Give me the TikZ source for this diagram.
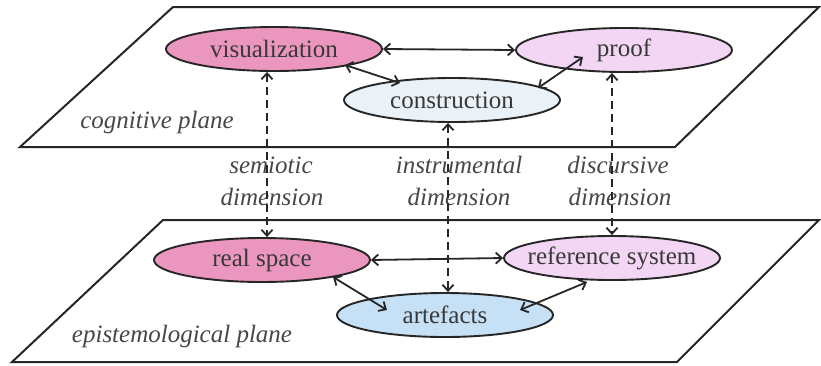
\documentclass[tikz,border=0pt]{standalone}
\usepackage{fontspec}
\setmainfont{Liberation Serif}
\usetikzlibrary{shapes.geometric,arrows.meta,calc}
\definecolor{pinkfill}{HTML}{EB96BE}
\definecolor{lavfill}{HTML}{F3D6F3}
\definecolor{palefill}{HTML}{EBF2F7}
\definecolor{bluefill}{HTML}{C6E0F5}
\begin{document}
\begin{tikzpicture}[x=1pt,y=-1pt,
  plane/.style={draw=black!85, line width=2pt, fill=white, line join=miter},
  blob/.style={ellipse, draw=black!85, line width=1.9pt, minimum width=216pt,
    minimum height=44pt, inner xsep=-15pt, inner ysep=-2pt,
    font=\fontsize{25}{28}\selectfont, text=black!78},
  link/.style={line width=1.8pt, draw=black!85,
    {Straight Barb[length=6pt,width=11pt]}-{Straight Barb[length=6pt,width=11pt]}},
  dim/.style={link, dash pattern=on 8pt off 5pt},
  lab/.style={font=\itshape\fontsize{25}{28}\selectfont, text=black!72, anchor=base}]
\useasboundingbox (0,0) rectangle (821,365);
% planes
\draw[plane] (173,7) -- (819,7) -- (675,147) -- (20,147) -- cycle;
\draw[plane] (163,220) -- (819,220) -- (677,362) -- (12,362) -- cycle;
% plane names
\node[lab] (cog) at (157,128) {cognitive plane};
\node[lab] (epi) at (182,342) {epistemological plane};
% nodes
\node[blob, fill=pinkfill] (vis) at (274,49) {visualization};
\node[blob, fill=lavfill] (proof) at (624,50) {proof};
\node[blob, fill=palefill] (cons) at (452,100) {construction};
\node[blob, fill=pinkfill] (real) at (262,260) {real space};
\node[blob, fill=lavfill] (ref) at (612,258) {reference system};
\node[blob, fill=bluefill] (art) at (445,315) {artefacts};
% dimension labels
\node[lab] (sem1) at (271,173) {semiotic};
\node[lab] (sem2) at (272,205) {dimension};
\node[lab] (ins1) at (459,173) {instrumental};
\node[lab] (ins2) at (459,205) {dimension};
\node[lab] (dis1) at (618,173) {discursive};
\node[lab] (dis2) at (620,205) {dimension};
% connectors
\draw[link] (vis.east) -- (proof.west);
\draw[link] ($(vis.center)+(71,16)$) -- ($(cons.center)+(-52,-17)$);
\draw[link] ($(cons.center)+(86,-12)$) -- ($(proof.center)+(-41,7)$);
\draw[link] (real.east) -- (ref.west);
\draw[link] ($(real.center)+(71,17)$) -- ($(art.center)+(-58,-5)$);
\draw[link] ($(art.center)+(75,-5)$) -- ($(ref.center)+(-25,24)$);
% dimensions
\draw[dim] ($(vis.south)+(-7,0)$) -- ($(real.north)+(5,0)$);
\draw[dim] ($(cons.south)+(-4,0)$) -- ($(art.north)+(3,0)$);
\draw[dim] ($(proof.south)+(-12,0)$) -- (ref.north);
\end{tikzpicture}
\end{document}
